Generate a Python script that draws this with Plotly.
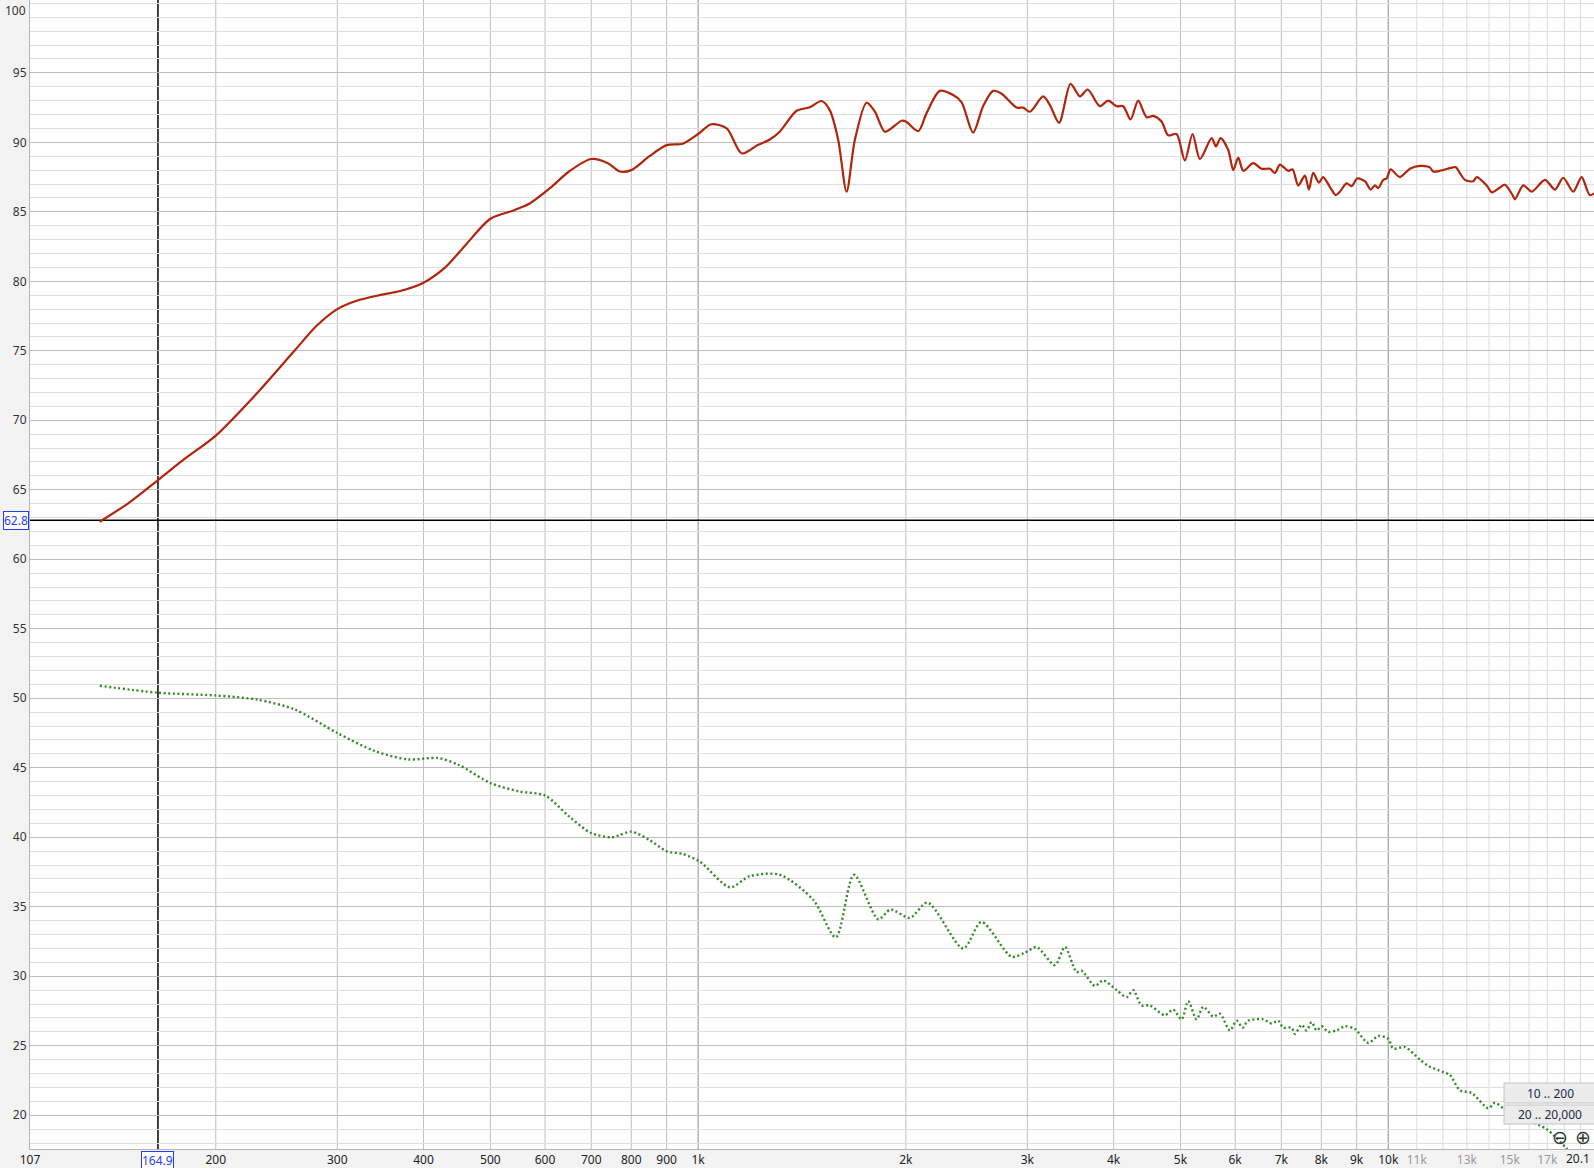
import math
import plotly.graph_objects as go

# ---------------- data ----------------
spl_freq = [135.8, 150, 164.9, 180, 200, 230, 260, 280, 300, 320, 345, 370, 400, 430, 460,
            500, 540, 570, 610, 650, 700, 740, 770, 800, 850, 900, 950, 1000, 1045, 1100,
            1157, 1220, 1270, 1313, 1389, 1452, 1510, 1552, 1596, 1641, 1687, 1754, 1804,
            1865, 1971, 2000, 2084, 2143, 2240, 2342, 2408, 2503, 2588, 2676, 2753, 2893,
            2958, 3025, 3162, 3233, 3335, 3465, 3575, 3669, 3820, 3928, 4040, 4130, 4233,
            4342, 4466, 4564, 4694, 4799, 4934, 5074, 5206, 5335, 5548, 5628, 5717, 5864,
            5963, 6063, 6166, 6373, 6554, 6740, 6853, 6966, 7163, 7268, 7406, 7573, 7675,
            7785, 7934, 8048, 8230, 8397, 8511, 8703, 8851, 9018, 9252, 9430, 9566, 9672,
            9835, 9947, 10081, 10399, 10750, 11116, 11490, 11618, 11880, 12419, 12531,
            12918, 13283, 13434, 13889, 14125, 14521, 14764, 15181, 15265, 15695, 16140,
            16873, 17446, 17932, 18540, 19067, 19600, 20100]
spl_db = [62.7, 64.1, 65.7, 67.2, 68.9, 72.0, 75.0, 76.8, 78.0, 78.6, 79.0, 79.3, 79.9, 81.0, 82.6,
          84.5, 85.1, 85.6, 86.7, 87.9, 88.8, 88.5, 87.9, 88.0, 89.0, 89.8, 89.9, 90.6, 91.3, 91.0,
          89.2, 89.8, 90.2, 90.76, 92.27, 92.52, 92.97, 92.3, 90.17, 86.45, 90.17, 92.85, 92.2,
          90.76, 91.55, 91.5, 90.8, 92.1, 93.7, 93.4, 92.9, 90.7, 92.6, 93.7, 93.5, 92.5,
          92.5, 92.2, 93.3, 92.7, 91.4, 94.2, 93.3, 93.8, 92.6, 93.0, 92.6, 92.6, 91.65,
          93.0, 91.8, 91.9, 91.5, 90.5, 90.6, 88.7, 90.6, 88.8, 90.3, 89.7, 90.3, 89.45,
          88.0, 88.9, 87.95, 88.5, 88.1, 88.1, 87.8, 88.4, 87.95, 88.05, 86.9, 87.6, 86.6,
          87.8, 87.1, 87.5, 86.8, 86.2, 86.45, 87.05, 86.85, 87.4, 87.2, 86.6, 86.9, 86.7,
          87.3, 87.4, 88.05, 87.5, 88.1, 88.3, 88.2, 87.9, 87.95, 88.2, 88.2,
          87.3, 87.2, 87.5, 86.9, 86.4, 86.75, 86.95, 86.1, 85.9, 86.9, 86.45,
          87.3, 86.6, 87.45, 86.45, 87.5, 86.2, 86.5]

dist_freq = [135.8, 165, 200, 230, 260, 300, 340, 380, 420, 450, 500, 550, 600, 650, 700,
             750, 800, 850, 900, 950, 1006, 1112, 1188, 1313, 1468, 1583, 1682, 1824, 1900,
             2027, 2150, 2422, 2574, 2846, 2976, 3093, 3289, 3400, 3535, 3595, 3758, 3864,
             4041, 4178, 4270, 4391, 4514, 4747, 4880, 5018, 5130, 5276, 5395, 5577, 5703,
             5896, 6030, 6152, 6267, 6590, 6776, 6927, 7043, 7244, 7325, 7490, 7615, 7745,
             7875, 8009, 8185, 8419, 8655, 8949, 9355, 9672, 10000, 10168, 10573, 11115,
             11428, 12013, 12286, 12702, 13211, 13964, 14277, 14679, 15300, 16000, 16967,
             18138, 19000]
dist_db = [50.9, 50.4, 50.2, 49.9, 49.2, 47.5, 46.2, 45.6, 45.7, 45.2, 43.9, 43.3, 43.0, 41.5, 40.3,
           40.0, 40.4, 39.8, 39.0, 38.8, 38.24, 36.4, 37.2, 37.3, 35.5, 32.8, 37.3, 34.1, 34.8,
           34.2, 35.3, 32.0, 33.9, 31.4, 31.7, 32.1, 30.8, 32.1, 30.3, 30.4, 29.3, 29.7,
           29.0, 28.5, 29.0, 27.9, 27.9, 27.2, 27.6, 26.9, 28.2, 26.9, 27.8, 27.1, 27.3,
           26.1, 26.8, 26.3, 26.8, 26.9, 26.6, 26.8, 26.3, 26.3, 25.85, 26.5, 26.1, 26.7,
           26.1, 26.4, 26.0, 26.1, 26.4, 26.2, 25.2, 25.7, 25.5, 24.8, 24.9, 24.0,
           23.55, 23.1, 22.9, 21.8, 21.6, 20.5, 20.9, 20.5, 20.0, 19.6, 19.0,
           17.6, 16.5]

x_tick_vals = [107.6, 200, 300, 400, 500, 600, 700, 800, 900, 1000, 2000, 3000, 4000, 5000,
               6000, 7000, 8000, 9000, 10000, 11000, 13000, 15000, 17000]
x_tick_text = ["107", "200", "300", "400", "500", "600", "700", "800", "900", "1k", "2k", "3k",
               "4k", "5k", "6k", "7k", "8k", "9k", "10k"] + \
              ['<span style="color:#9a9a9a">%s</span>' % t for t in ["11k", "13k", "15k", "17k"]]
y_tick_vals = list(range(20, 100, 5))
y_top_label = 100

grid_mid = [200, 300, 400, 500, 600, 700, 800, 900, 2000, 3000, 4000, 5000, 6000, 7000, 8000, 9000]
grid_dark = [1000, 10000]
grid_light = [11000, 12000, 13000, 14000, 15000, 16000, 17000, 18000, 19000]

cursor_freq = 164.9
cursor_db = 62.8
x_min, x_max = 107.6, 19870
y_min, y_max = 17.57, 100.24

# ---------------- figure ----------------
W, H = 1594, 1168
L, B = 30, 19
PW, PH = W - L, H - B


def px_x(px):
    return (px - L) / PW


def px_y(py):
    return (PH - py) / PH


fig = go.Figure()
fig.add_trace(go.Scatter(x=spl_freq, y=spl_db, mode="lines",
                         line=dict(color="#b0250c", width=2.2, shape="spline", smoothing=0.8),
                         hoverinfo="skip"))
fig.add_trace(go.Scatter(x=dist_freq, y=dist_db, mode="lines",
                         line=dict(color="#2e8c22", width=2.4, dash="2px,2.6px", shape="spline", smoothing=0.8),
                         hoverinfo="skip"))

shapes = []
for f in grid_light:
    shapes.append(dict(type="line", xref="x", yref="paper", x0=f, x1=f, y0=0, y1=1,
                       line=dict(color="#dcdcdc", width=1), layer="between"))
for f in grid_mid:
    shapes.append(dict(type="line", xref="x", yref="paper", x0=f, x1=f, y0=0, y1=1,
                       line=dict(color="#c0c0c0", width=1), layer="between"))
for f in grid_dark:
    shapes.append(dict(type="line", xref="x", yref="paper", x0=f, x1=f, y0=0, y1=1,
                       line=dict(color="#8e8e8e", width=1), layer="between"))
# cursor lines
shapes.append(dict(type="line", xref="x", yref="paper", x0=cursor_freq, x1=cursor_freq, y0=0, y1=1,
                   line=dict(color="#000000", width=1.5), layer="between"))
shapes.append(dict(type="line", xref="paper", yref="y", x0=0, x1=1, y0=cursor_db, y1=cursor_db,
                   line=dict(color="#000000", width=1.5), layer="between"))
# buttons
shapes.append(dict(type="rect", xref="paper", yref="paper", x0=px_x(1504), x1=px_x(1600),
                   y0=px_y(1103), y1=px_y(1083), fillcolor="#ececec",
                   line=dict(color="#c4c4c4", width=1), layer="above"))
shapes.append(dict(type="rect", xref="paper", yref="paper", x0=px_x(1504), x1=px_x(1600),
                   y0=px_y(1124), y1=px_y(1105), fillcolor="#ececec",
                   line=dict(color="#c4c4c4", width=1), layer="above"))

annotations = [
    dict(text="164.9", xref="x", x=math.log10(cursor_freq), yref="paper", y=0, yanchor="top",
         xanchor="center", yshift=-2, showarrow=False, font=dict(color="#1f3cff", size=12),
         bgcolor="#ffffff", bordercolor="#1f3cff", borderwidth=1, borderpad=0),
    dict(text="62.8", xref="paper", x=0, xanchor="right", xshift=-1, yref="y", y=cursor_db,
         yanchor="middle", showarrow=False, font=dict(color="#1f3cff", size=12),
         bgcolor="#ffffff", bordercolor="#1f3cff", borderwidth=1, borderpad=0),
    dict(text=str(y_top_label), xref="paper", x=0, xanchor="right", xshift=-2, yref="paper",
         y=1, yanchor="top", yshift=0, showarrow=False,
         font=dict(color="#333333", size=12)),
    dict(text="20.1", xref="paper", x=1, xanchor="right", xshift=-3, yref="paper",
         y=px_y(1159), yanchor="middle", borderpad=0, showarrow=False,
         font=dict(color="#222222", size=12)),
    dict(text="10 .. 200", xref="paper", x=px_x(1550), yref="paper", y=px_y(1093),
         xanchor="center", yanchor="middle", showarrow=False, font=dict(color="#1c2a4a", size=12)),
    dict(text="20 .. 20,000", xref="paper", x=px_x(1550), yref="paper", y=px_y(1114.5),
         xanchor="center", yanchor="middle", showarrow=False, font=dict(color="#1c2a4a", size=12)),
    dict(text="⊖", xref="paper", x=px_x(1560), yref="paper", y=px_y(1137),
         xanchor="center", yanchor="middle", showarrow=False,
         font=dict(color="#333333", size=19, family="DejaVu Sans")),
    dict(text="⊕", xref="paper", x=px_x(1583), yref="paper", y=px_y(1137),
         xanchor="center", yanchor="middle", showarrow=False,
         font=dict(color="#333333", size=19, family="DejaVu Sans")),
]

fig.update_layout(
    width=W, height=H,
    margin=dict(l=L, r=0, t=0, b=B, pad=0),
    paper_bgcolor="#f3f3f3", plot_bgcolor="#ffffff",
    showlegend=False,
    font=dict(family="Noto Sans, Open Sans, sans-serif", size=12, color="#222222"),
    shapes=shapes, annotations=annotations,
    xaxis=dict(type="log", range=[math.log10(x_min), math.log10(x_max)],
               tickmode="array", tickvals=x_tick_vals, ticktext=x_tick_text,
               showgrid=False, zeroline=False, showline=True, linecolor="#b4b4b4",
               linewidth=1, ticks="", tickfont=dict(size=12, color="#222222")),
    yaxis=dict(range=[y_min, y_max], tickmode="array", tickvals=y_tick_vals,
               showgrid=True, gridcolor="#bdbdbd", gridwidth=1,
               minor=dict(dtick=1, tick0=0, showgrid=True, gridcolor="#dedede", gridwidth=1),
               zeroline=False, showline=True, linecolor="#b4b4b4", linewidth=1,
               ticks="", tickfont=dict(size=12, color="#333333")),
)

fig.write_html("out.html", config={"displayModeBar": False},
               post_script="document.body.style.margin='0';document.body.style.overflow='hidden';")
